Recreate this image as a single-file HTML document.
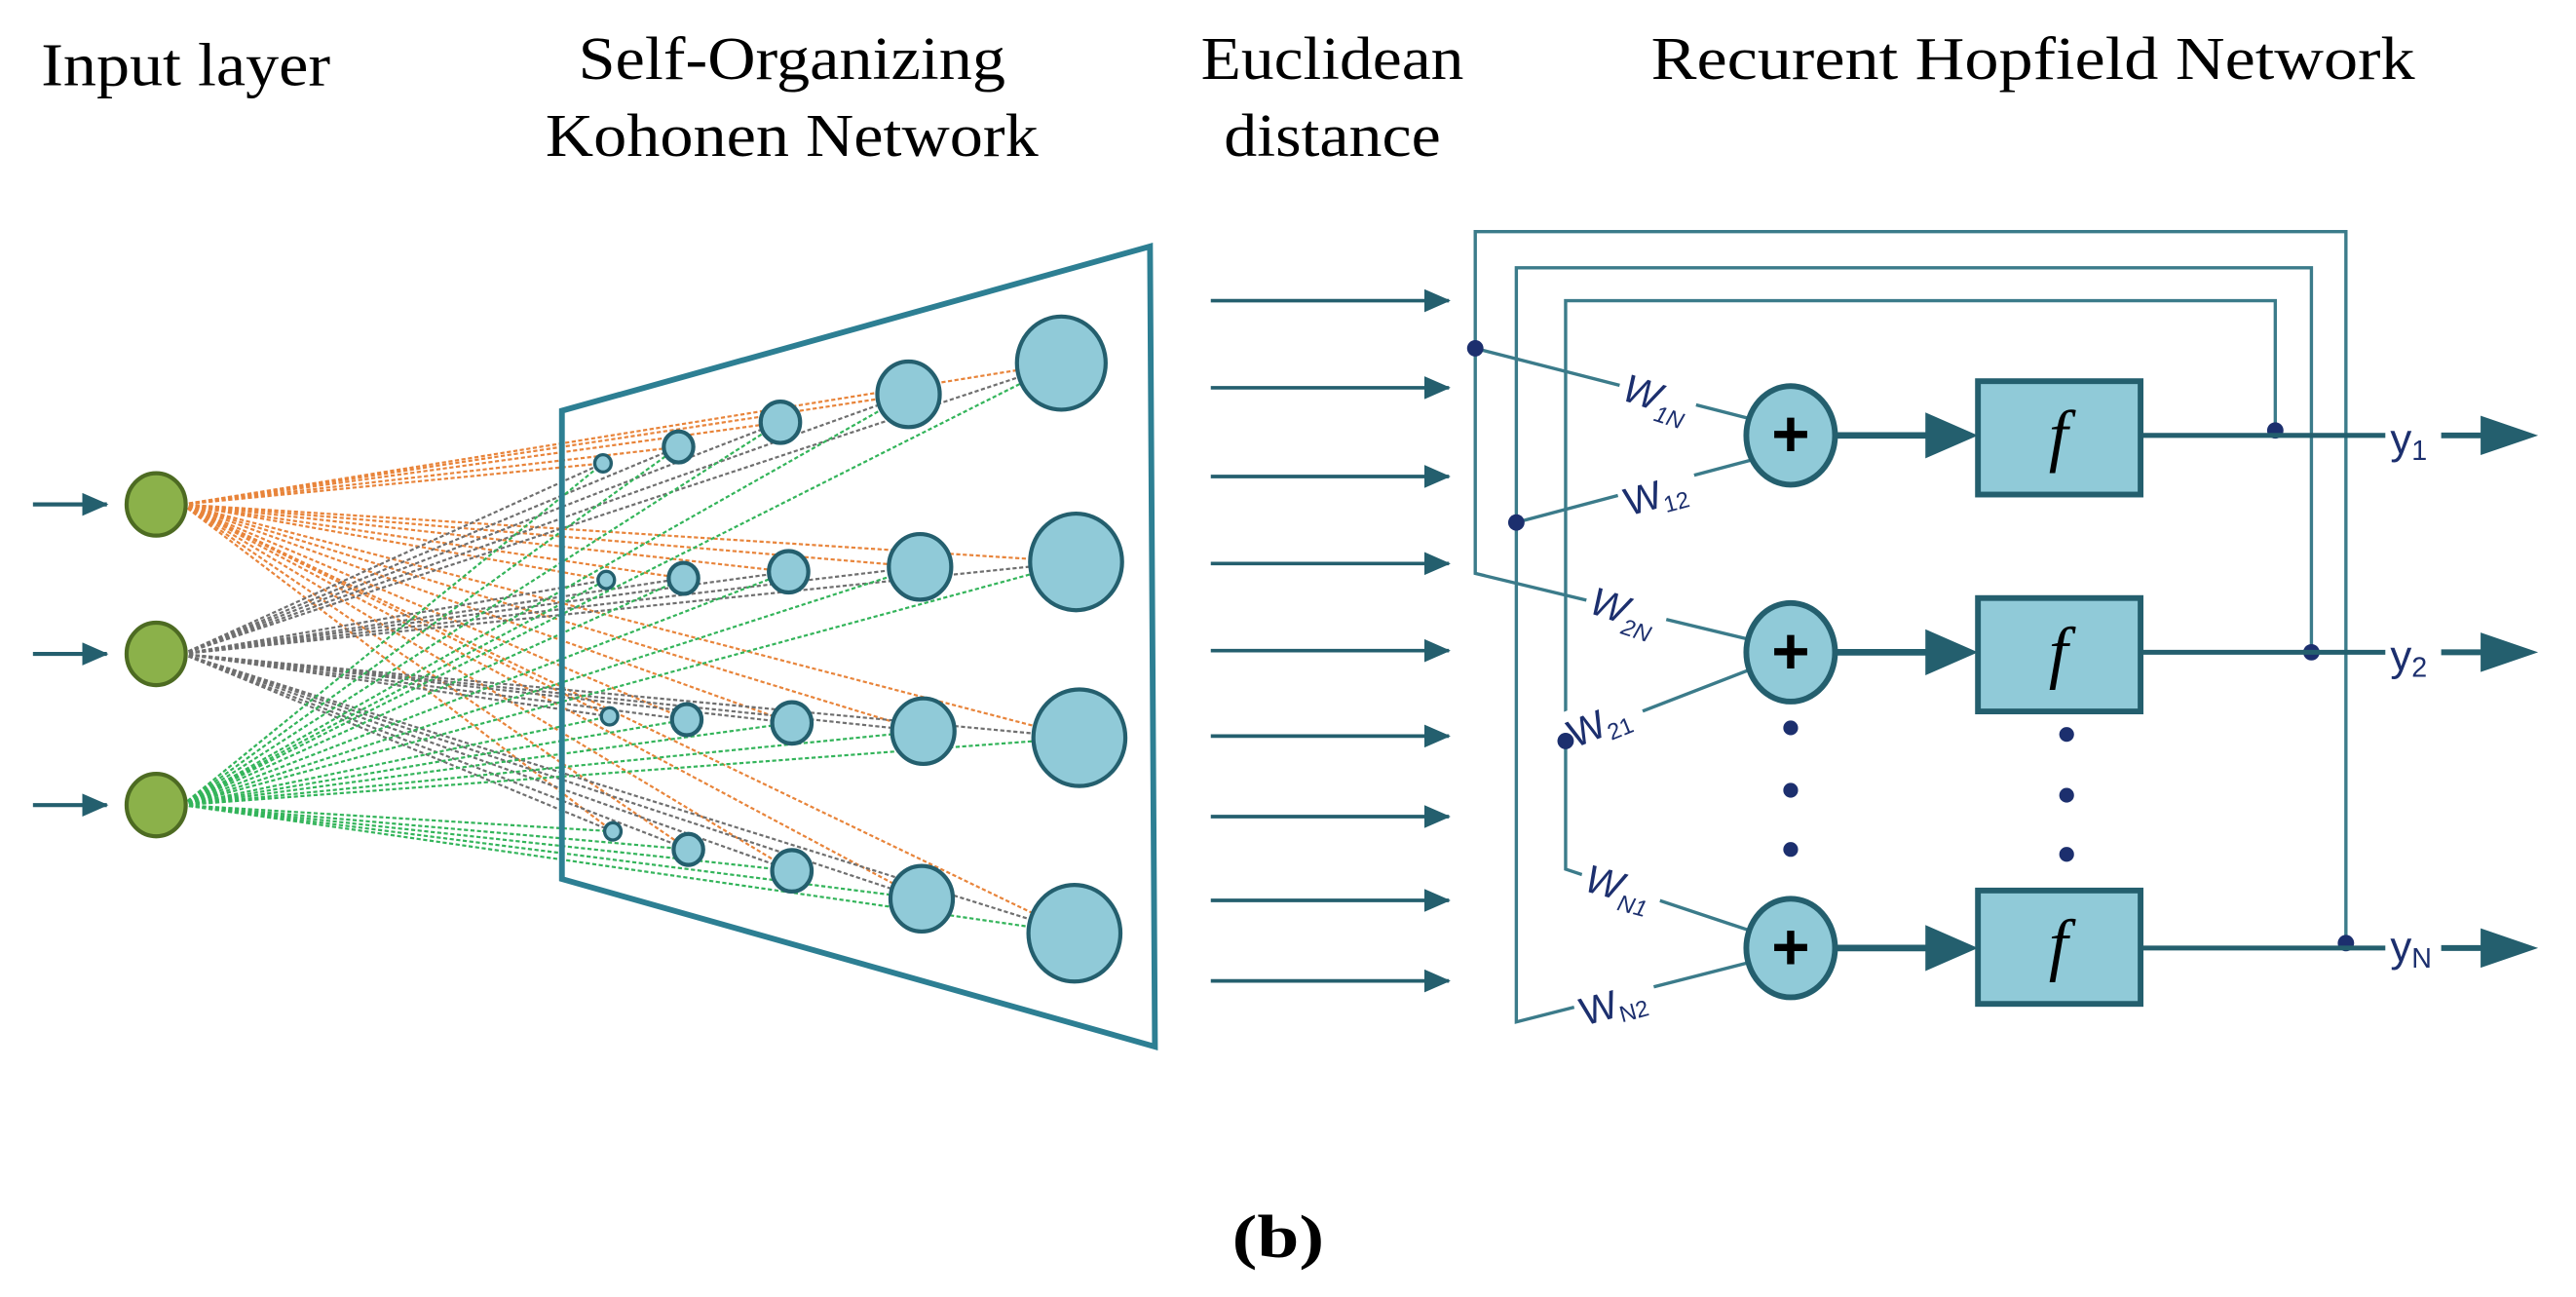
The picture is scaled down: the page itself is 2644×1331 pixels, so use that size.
<!DOCTYPE html>
<html><head><meta charset="utf-8"><style>
html,body{margin:0;padding:0;background:#fff;}
svg{display:block;}
</style></head><body>
<svg id="s" width="2644" height="1331" viewBox="0 0 1568 789.4" xmlns="http://www.w3.org/2000/svg">
<defs>
<marker id="ah" markerWidth="16" markerHeight="14" refX="15" refY="7" orient="auto" markerUnits="userSpaceOnUse"><path d="M0,0 L16,7 L0,14 Z" fill="#245f6e"/></marker>
</defs>
<g font-family="Liberation Serif, serif" font-size="37" fill="#000">
<text x="25" y="52" textLength="176" lengthAdjust="spacingAndGlyphs">Input layer</text>
<text x="352" y="48" textLength="260" lengthAdjust="spacingAndGlyphs">Self-Organizing</text>
<text x="332" y="95" textLength="300" lengthAdjust="spacingAndGlyphs">Kohonen Network</text>
<text x="731" y="48" textLength="160" lengthAdjust="spacingAndGlyphs">Euclidean</text>
<text x="745" y="95" textLength="132" lengthAdjust="spacingAndGlyphs">distance</text>
<text x="1005" y="48" textLength="465" lengthAdjust="spacingAndGlyphs">Recurent  Hopfield Network</text>
<text x="750" y="765" font-weight="bold" textLength="56" lengthAdjust="spacingAndGlyphs">(b)</text>
</g>
<g id="lines"></g>
<polygon points="342,250 700,150 703,637 342,535" fill="none" stroke="#2d7f93" stroke-width="3.5"/>
<g id="nodes"></g>
<g id="euc" stroke="#245f6e" stroke-width="2.2"></g>
<g fill="none" stroke="#3b7b8a" stroke-width="2">
<polyline points="898,212 898,141 1428,141 1428,574"/>
<polyline points="898,212 898,349 1064,389"/>
<line x1="898" y1="212" x2="1066" y2="255"/>
<polyline points="923,318 923,163 1407,163 1407,397"/>
<polyline points="923,318 923,622 1064,586"/>
<line x1="923" y1="318" x2="1066" y2="280"/>
<polyline points="953,451 953,183 1385,183 1385,262"/>
<polyline points="953,451 953,529 1064,566"/>
<line x1="953" y1="451" x2="1064" y2="408"/>
</g>
<g fill="#fff" stroke="none">
<rect x="985" y="228" width="48" height="26" transform="rotate(15 1009 241)"/>
<rect x="985" y="286" width="48" height="26" transform="rotate(-15 1009 299)"/>
<rect x="965" y="358" width="50" height="26" transform="rotate(15 990 371)"/>
<rect x="950" y="425" width="50" height="26" transform="rotate(-22 975 438)"/>
<rect x="962" y="526" width="50" height="26" transform="rotate(15 987 539)"/>
<rect x="958" y="596" width="50" height="26" transform="rotate(-15 983 609)"/>
</g>
<g font-family="Liberation Sans, sans-serif" fill="#1c2f6e">
<text x="988" y="250" font-size="24" font-style="italic" transform="rotate(18 1009 241)">W<tspan font-size="14" dy="6">1N</tspan></text>
<text x="988" y="309" font-size="24" transform="rotate(-15 1009 299)">W<tspan font-size="14" dy="4">12</tspan></text>
<text x="968" y="380" font-size="24" font-style="italic" transform="rotate(18 990 371)">W<tspan font-size="14" dy="6">2N</tspan></text>
<text x="953" y="448" font-size="24" transform="rotate(-22 975 438)">W<tspan font-size="14" dy="4">21</tspan></text>
<text x="965" y="548" font-size="24" font-style="italic" transform="rotate(15 987 539)">W<tspan font-size="14" dy="6">N1</tspan></text>
<text x="961" y="619" font-size="24" transform="rotate(-15 983 609)">W<tspan font-size="14" dy="4">N2</tspan></text>
</g>
<g fill="#1c2f6e"><circle cx="898" cy="212" r="5"/><circle cx="923" cy="318" r="5"/><circle cx="953" cy="451" r="5"/>
<circle cx="1385" cy="262" r="5"/><circle cx="1407" cy="397" r="5"/><circle cx="1428" cy="574" r="5"/>
<circle cx="1090" cy="443" r="4.5"/><circle cx="1090" cy="481" r="4.5"/><circle cx="1090" cy="517" r="4.5"/>
<circle cx="1258" cy="447" r="4.5"/><circle cx="1258" cy="484" r="4.5"/><circle cx="1258" cy="520" r="4.5"/></g>
<g id="hop"></g>
<g font-family="Liberation Sans, sans-serif" font-size="26" fill="#1c2f6e">
<text x="1455" y="276">y<tspan font-size="17" dy="4">1</tspan></text>
<text x="1455" y="408">y<tspan font-size="17" dy="4">2</tspan></text>
<text x="1455" y="585">y<tspan font-size="17" dy="4">N</tspan></text>
</g>
</svg>
<script>
var NS="http://www.w3.org/2000/svg";
function el(p,t,a){var e=document.createElementNS(NS,t);for(var k in a)e.setAttribute(k,a[k]);p.appendChild(e);return e;}
var ins=[[95,307],[95,398],[95,490]];
var cols=["#e8843a","#6f6f6f","#33b45a"];
var K=[[367,282,5],[413,272,9],[475,257,12],[553,240,19],[646,221,27],
[369,353,5],[416,352,9],[480,348,12],[560,345,19],[655,342,28],
[371,436,5],[418,438,9],[482,440,12],[562,445,19],[657,449,28],
[373,506,5],[419,517,9],[482,530,12],[561,547,19],[654,568,28]];
var L=document.getElementById('lines');
ins.forEach(function(p,i){K.forEach(function(k){el(L,'line',{x1:p[0]+16,y1:p[1],x2:k[0],y2:k[1],stroke:cols[i],'stroke-width':1.3,'stroke-dasharray':'2.5,1.5'});});});
var N=document.getElementById('nodes');
K.forEach(function(k){el(N,'ellipse',{cx:k[0],cy:k[1],rx:k[2],ry:k[2]*1.05,fill:'#90cad8',stroke:'#245f6e','stroke-width':k[2]<7?2:2.5});});
ins.forEach(function(p){el(N,'ellipse',{cx:p[0],cy:p[1],rx:18,ry:19,fill:'#8bb14a',stroke:'#4d6b22','stroke-width':2.5});
el(N,'line',{x1:20,y1:p[1],x2:65,y2:p[1],stroke:'#245f6e','stroke-width':2.5,'marker-end':'url(#ah)'});});
var E=document.getElementById('euc');
[183,236,290,343,396,448,497,548,597].forEach(function(y){el(E,'line',{x1:737,y1:y,x2:882,y2:y,'marker-end':'url(#ah)'});});
var H=document.getElementById('hop');
[[265,232],[397,364],[577,542]].forEach(function(r){var y=r[0],by=r[1];
el(H,'line',{x1:1117,y1:y,x2:1175,y2:y,stroke:'#245f6e','stroke-width':4});
el(H,'path',{d:'M1172,'+(y-14)+' L1204,'+y+' L1172,'+(y+14)+' Z',fill:'#245f6e'});
el(H,'ellipse',{cx:1090,cy:y,rx:27,ry:30,fill:'#90cad8',stroke:'#245f6e','stroke-width':3.5});
el(H,'text',{x:1090,y:y+13,'text-anchor':'middle','font-family':'Liberation Sans, sans-serif','font-size':40,'font-weight':'bold',fill:'#000'}).textContent='+';
el(H,'rect',{x:1204,y:by,width:99,height:69,fill:'#90cad8',stroke:'#245f6e','stroke-width':3.5});
el(H,'text',{x:1253,y:by+47,'text-anchor':'middle','font-family':'Liberation Serif, serif','font-size':42,'font-style':'italic',fill:'#000'}).textContent='f';
el(H,'line',{x1:1303,y1:y,x2:1452,y2:y,stroke:'#245f6e','stroke-width':3});
el(H,'line',{x1:1486,y1:y,x2:1515,y2:y,stroke:'#245f6e','stroke-width':3.5});
el(H,'path',{d:'M1510,'+(y-12)+' L1545,'+y+' L1510,'+(y+12)+' Z',fill:'#245f6e'});
});
</script>
</body></html>
